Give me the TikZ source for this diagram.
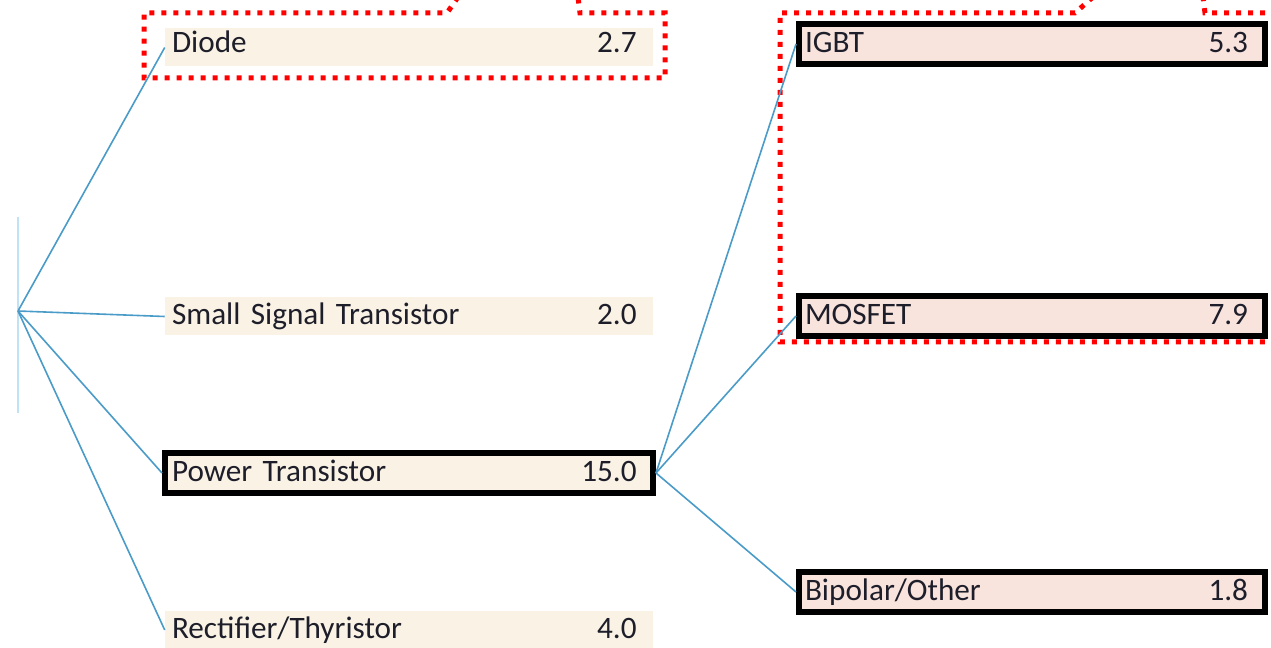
\documentclass[tikz,border=0pt]{standalone}
\usepackage{fontspec}
\setmainfont{Carlito}
\definecolor{beige}{HTML}{FAF3E5}
\definecolor{pinkf}{HTML}{F8E3DD}
\definecolor{linkblue}{HTML}{4A9BC8}
\definecolor{rootblue}{HTML}{BFE2F5}
\definecolor{txt}{HTML}{1E1E2A}
\tikzset{
  base/.style={rectangle, inner ysep=0pt, text=txt, font=\fontsize{23.4}{28}\selectfont,
    align=left, text height=17pt, text depth=4.25pt},
  leftbox/.style={base, fill=beige, minimum width=366pt, minimum height=28.5pt,
    inner xsep=5.25pt, text width=355.5pt},
  hlbox/.style={leftbox, draw=black, line width=4.5pt, minimum height=30pt},
  rightbox/.style={base, fill=pinkf, draw=black, line width=4.5pt, minimum width=349.5pt,
    minimum height=30pt, inner xsep=4.5pt, text width=340.5pt},
  link/.style={draw=linkblue, line width=1.2pt},
  rootline/.style={draw=rootblue, line width=1.2pt},
  callout/.style={draw=red, line width=3.75pt, dash pattern=on 3.75pt off 5.25pt},
}
\begin{document}
\begin{tikzpicture}[x=0.75pt,y=-0.75pt]
\useasboundingbox (0,0) rectangle (1271,648);
% callouts
\begin{scope}
\clip (0,0) rectangle (1271,648);
\draw[callout] (458,-3) -- (447,13) -- (144,13) -- (144,78) -- (665,78) -- (665,13) -- (580,13) -- (578,-3);
\draw[callout] (1093,-3) -- (1075,13) -- (780,13) -- (780,342) -- (1290,342) -- (1290,13) -- (1205,13) -- (1203,-3);
\end{scope}
% root
\coordinate (root) at (18,311);
\coordinate (rtop) at (18,217);
\coordinate (rbot) at (18,413);
\draw[rootline] (rtop) -- (rbot);
% left boxes
\node[leftbox, text height=15pt, text depth=7.5pt] (diode) at (409,47.5) {Diode\hfill 2.7\hspace*{7pt}};
\node[leftbox] (small) at (409,316.5) {Small Signal Transistor\hfill 2.0\hspace*{7pt}};
\node[hlbox] (power) at (409,473) {Power Transistor\hfill 15.0\hspace*{7pt}};
\node[leftbox] (rect) at (409,630) {Rectifier/Thyristor\hfill 4.0\hspace*{7pt}};
% right boxes
\node[rightbox] (igbt) at (1032,44) {IGBT\hfill 5.3\hspace*{8.25pt}};
\node[rightbox] (mosfet) at (1032,316) {MOSFET\hfill 7.9\hspace*{8.25pt}};
\node[rightbox] (bipolar) at (1032,592) {Bipolar/Other\hfill 1.8\hspace*{8.25pt}};
% connectors
\draw[link] (root) -- (diode.west);
\draw[link] (root) -- (small.west);
\draw[link] (root) -- (power.west);
\draw[link] (root) -- (rect.west);
\draw[link] (power.east) -- (igbt.west);
\draw[link] (power.east) -- (mosfet.west);
\draw[link] (power.east) -- (bipolar.west);
\end{tikzpicture}
\end{document}
